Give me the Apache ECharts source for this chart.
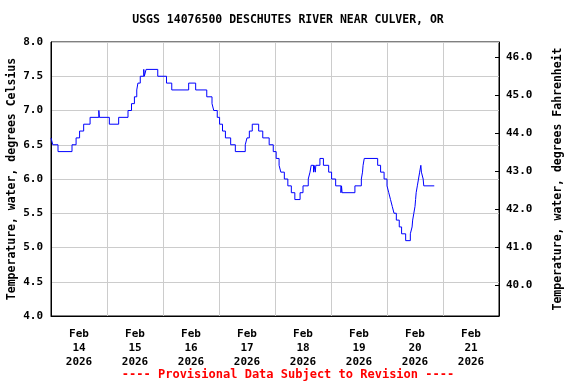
<!DOCTYPE html>
<html>
<head>
<meta charset="utf-8">
<script src="https://cdn.jsdelivr.net/npm/echarts@6/dist/echarts.min.js"></script>
<style>html,body{margin:0;padding:0;background:#fff}#c{width:576px;height:384px}</style>
</head>
<body>
<div id="c"></div>
<script>
// Hours since Feb 14 2026 00:00 at which the reading changes
const hours = [0,0.75,3,9,10.75,12.25,14,16.75,20.5,20.75,25,29,33,34.5,35.75,36.75,37.25,38.25,39.75,40,40.75,45.75,49.5,51.75,59,62,66.75,69,69.75,71.25,72.25,73.5,74.75,77,79,83.25,84,85,86.25,89,90.75,93.5,95.25,96.5,97.75,98.5,100,101.5,103,104.5,106.75,108,110.25,111,111.5,112.5,112.75,113.25,113.5,115.25,116.75,119,120.25,122,124.25,124.5,124.75,130.25,133,133.5,133.75,134.25,140,141.25,142.75,144,144.75,145.5,146.25,147,148,149.25,150.25,152,154,154.75,155,155.5,156,156.25,156.5,157,157.5,158,158.5,158.75,159.5,159.75,164.25];
const tempC = [6.6,6.5,6.4,6.5,6.6,6.7,6.8,6.9,7.0,6.9,6.8,6.9,7.0,7.1,7.2,7.3,7.4,7.5,7.6,7.5,7.6,7.5,7.4,7.3,7.4,7.3,7.2,7.1,7.0,6.9,6.8,6.7,6.6,6.5,6.4,6.5,6.6,6.7,6.8,6.7,6.6,6.5,6.4,6.3,6.2,6.1,6.0,5.9,5.8,5.7,5.8,5.9,6.0,6.1,6.2,6.1,6.2,6.1,6.2,6.3,6.2,6.1,6.0,5.9,5.8,5.9,5.8,5.9,6.0,6.1,6.2,6.3,6.2,6.1,6.0,5.9,5.8,5.7,5.6,5.5,5.4,5.3,5.2,5.1,5.2,5.3,5.4,5.5,5.6,5.7,5.8,5.9,6.0,6.1,6.2,6.1,6.0,5.9,5.9];
const dayLabels = ['Feb\n14\n2026','Feb\n15\n2026','Feb\n16\n2026','Feb\n17\n2026','Feb\n18\n2026','Feb\n19\n2026','Feb\n20\n2026','Feb\n21\n2026'];
const fahrenheitTicks = [40,41,42,43,44,45,46];

const FONT = 'DejaVu Sans Mono';
const chart = echarts.init(document.getElementById('c'), null, {renderer:'canvas'});
const data = hours.map((h,i)=>[h,tempC[i]]);
const labelPos = dayLabels.map((_,i)=>12+24*i);

chart.setOption({
  animation:false,
  backgroundColor:'#fff',
  title:{
    text:'USGS 14076500 DESCHUTES RIVER NEAR CULVER, OR',
    left:'center', top:9,
    textStyle:{fontFamily:FONT,fontWeight:'bold',fontSize:11.5,color:'#000'}
  },
  graphic:[{
    type:'text', left:'center', top:369,
    style:{text:'---- Provisional Data Subject to Revision ----',fill:'#ff0000',font:'bold 12px "DejaVu Sans Mono"'}
  }],
  grid:{left:51,right:77,top:42,bottom:68,outerBoundsMode:'none',containLabel:false,show:true,borderColor:'#000',borderWidth:1,backgroundColor:'transparent'},
  xAxis:{
    type:'value', min:0, max:192, interval:24,
    axisLine:{show:true,lineStyle:{color:'#000'}},
    axisTick:{show:false},
    splitLine:{show:true,lineStyle:{color:'#cccccc',width:1}},
    axisLabel:{
      customValues:labelPos,
      formatter:(v)=>dayLabels[Math.round((v-12)/24)]||'',
      fontFamily:FONT,fontWeight:'bold',fontSize:11,color:'#000',lineHeight:14,margin:11
    }
  },
  yAxis:[{
    type:'value', min:4, max:8, interval:0.5, position:'left',
    name:'Temperature, water, degrees Celsius', nameLocation:'middle', nameGap:33, nameMoveOverlap:false,
    nameTextStyle:{fontFamily:FONT,fontWeight:'bold',fontSize:11.5,color:'#000'},
    axisLine:{show:true,lineStyle:{color:'#000'}},
    axisTick:{show:false},
    splitLine:{show:true,lineStyle:{color:'#cccccc',width:1}},
    axisLabel:{formatter:(v)=>v.toFixed(1),fontFamily:FONT,fontWeight:'bold',fontSize:11,color:'#000',margin:8}
  },{
    type:'value', min:32+4*1.8, max:32+8*1.8, position:'right',
    name:'Temperature, water, degrees Fahrenheit', nameLocation:'middle', nameGap:53, nameMoveOverlap:false,
    nameTextStyle:{fontFamily:FONT,fontWeight:'bold',fontSize:11.5,color:'#000'},
    axisLine:{show:true,lineStyle:{color:'#000'}},
    axisTick:{show:true,inside:true,length:4,customValues:fahrenheitTicks,lineStyle:{color:'#000'}},
    splitLine:{show:false},
    axisLabel:{customValues:fahrenheitTicks,formatter:(v)=>v.toFixed(1),fontFamily:FONT,fontWeight:'bold',fontSize:11,color:'#000',margin:7}
  }],
  series:[{
    type:'line', data:data, step:'end', showSymbol:false, yAxisIndex:0,
    lineStyle:{color:'#0000ff',width:1}, silent:true
  }]
});
</script>
</body>
</html>
